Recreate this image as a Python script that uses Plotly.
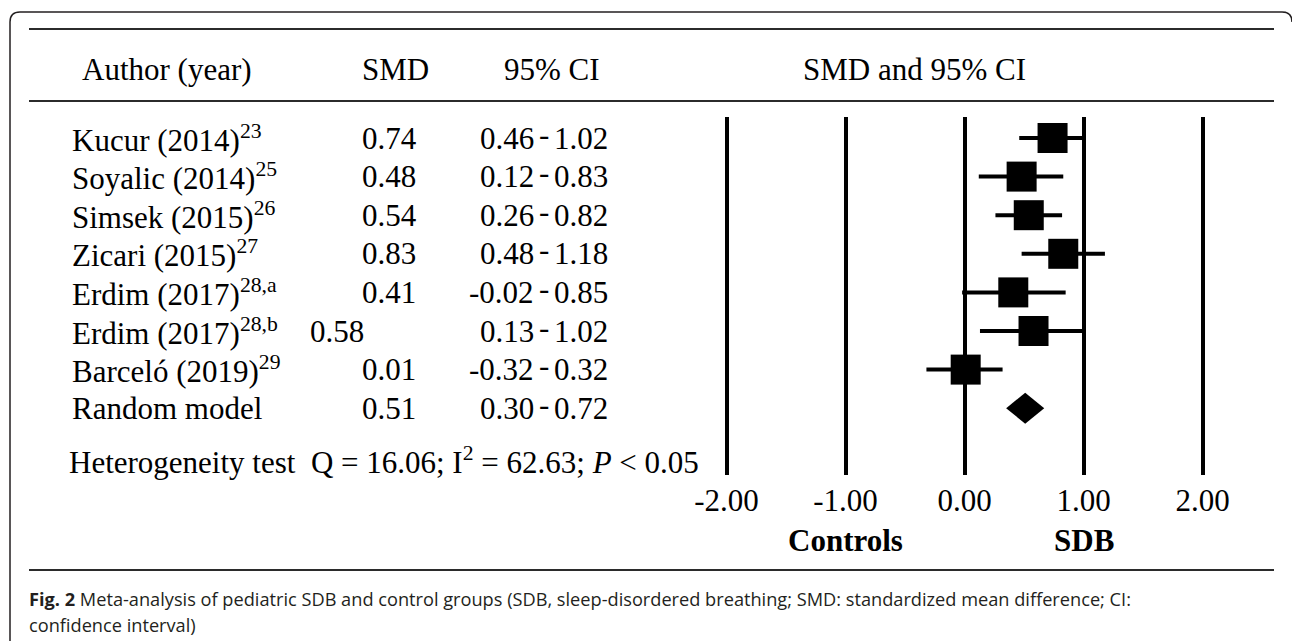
import plotly.graph_objects as go

# ---------------- data ----------------
authors = ["Kucur (2014)<sup>23</sup>", "Soyalic (2014)<sup>25</sup>", "Simsek (2015)<sup>26</sup>",
           "Zicari (2015)<sup>27</sup>", "Erdim (2017)<sup>28,a</sup>", "Erdim (2017)<sup>28,b</sup>",
           "Barceló (2019)<sup>29</sup>"]
smd = [0.74, 0.48, 0.54, 0.83, 0.41, 0.58, 0.01]
ci_low = [0.46, 0.12, 0.26, 0.48, -0.02, 0.13, -0.32]
ci_high = [1.02, 0.83, 0.82, 1.18, 0.85, 1.02, 0.32]
pooled_label = "Random model"
pooled_smd = 0.51
pooled_low = 0.30
pooled_high = 0.72
heterogeneity = "Heterogeneity test\u00a0\u00a0Q = 16.06; I<sup>2</sup> = 62.63; <i>P</i> &lt; 0.05"
x_ticks = [-2, -1, 0, 1, 2]
tick_text = ["%.2f" % v for v in x_ticks]
side_labels = ["Controls", "SDB"]
side_pos = [-1, 1]
caption1 = ("<b>Fig. 2</b> Meta-analysis of pediatric SDB and control groups (SDB, sleep-disordered "
            "breathing; SMD: standardized mean difference; CI:")
caption2 = "confidence interval)"

# ---------------- layout geometry ----------------
W, H = 1292, 641
L, R, T, B = 690, 1275, 117, 475
ZERO_PX, UNIT_PX = 964.5, 119.0
ROW0_PX, ROW_STEP = 138.0, 38.6

def px(x):
    return (x - L) / (R - L)

def py(y):
    return (B - y) / (B - T)

x_range = [(L - ZERO_PX) / UNIT_PX, (R - ZERO_PX) / UNIT_PX]
y_range = [(B - ROW0_PX) / ROW_STEP, (T - ROW0_PX) / ROW_STEP]

SERIF = "Liberation Serif, Times New Roman, serif"
FS = 31
INK = "#000000"

n = len(authors)
rows = list(range(n))
pooled_row = n

fig = go.Figure()

# study squares with CI lines
fig.add_trace(go.Scatter(
    x=smd, y=rows, mode="markers",
    marker=dict(symbol="square", size=30, color=INK, line=dict(width=0)),
    error_x=dict(type="data", symmetric=False,
                 array=[h - m for h, m in zip(ci_high, smd)],
                 arrayminus=[m - l for m, l in zip(smd, ci_low)],
                 thickness=4, width=0, color=INK),
    showlegend=False, hoverinfo="skip", cliponaxis=False,
))

# pooled diamond
dx, dy = 0.16, 0.40
fig.add_trace(go.Scatter(
    x=[pooled_smd - dx, pooled_smd, pooled_smd + dx, pooled_smd, pooled_smd - dx],
    y=[pooled_row, pooled_row - dy, pooled_row, pooled_row + dy, pooled_row],
    mode="lines", fill="toself", fillcolor=INK, line=dict(width=0, color=INK),
    showlegend=False, hoverinfo="skip",
))

ann = []

def text(x, y, s, xanchor="center", size=FS, family=SERIF, yref="paper", xref="paper",
         color=INK, yshift=0):
    ann.append(dict(x=x, y=y, xref=xref, yref=yref, text=s, showarrow=False,
                    xanchor=xanchor, yanchor="middle", yshift=yshift,
                    font=dict(family=family, size=size, color=color)))

# header
HDR_Y = py(70)
text(px(167), HDR_Y, "Author (year)")
text(px(395), HDR_Y, "SMD")
text(px(552), HDR_Y, "95% CI")
text(px(914), HDR_Y, "SMD and 95% CI")

# table rows
smd_x = [389] * n
smd_x[5] = 337
labels = authors + [pooled_label]
vals = smd + [pooled_smd]
lows = ci_low + [pooled_low]
highs = ci_high + [pooled_high]
smd_x.append(389)
for i in range(n + 1):
    text(px(70), i, labels[i], xanchor="left", yref="y")
    text(px(smd_x[i]), i, "%.2f" % vals[i], yref="y")
    text(px(536), i, "%.2f" % lows[i], xanchor="right", yref="y")
    text(px(544), i, "-", yref="y", yshift=4)
    text(px(552), i, "%.2f" % highs[i], xanchor="left", yref="y")

text(px(67), py(460), heterogeneity, xanchor="left")

# side labels
for lab, pos in zip(side_labels, side_pos):
    text(pos, py(540), "<b>%s</b>" % lab, xref="x")

# caption
CAP_FONT = "Open Sans, Noto Sans, sans-serif"
text(px(27), py(599), caption1, xanchor="left", size=18.2, family=CAP_FONT, color="#231f20")
text(px(27), py(625), caption2, xanchor="left", size=18.2, family=CAP_FONT, color="#231f20")

# rules and frame
shapes = []
for yy in (29, 101, 570):
    shapes.append(dict(type="line", xref="paper", yref="paper",
                       x0=px(29), x1=px(1274), y0=py(yy), y1=py(yy),
                       line=dict(color="#2b2b2b", width=2)))
frame = ("M {a},{b} L {a},{c} Q {a},{d} {e},{d} L {f},{d} Q {g},{d} {g},{h}"
         .format(a=px(10), b=py(660), c=py(22), d=py(12), e=px(20),
                 f=px(1282), g=px(1292), h=py(22)))
shapes.append(dict(type="path", xref="paper", yref="paper", path=frame,
                   line=dict(color="#231f20", width=1.5)))

fig.update_layout(
    width=W, height=H,
    margin=dict(l=L, r=W - R, t=T, b=H - B, pad=0),
    paper_bgcolor="white", plot_bgcolor="white",
    annotations=ann, shapes=shapes, showlegend=False,
    xaxis=dict(range=x_range, tickvals=x_ticks, ticktext=tick_text,
               showgrid=True, gridcolor=INK, gridwidth=4, zeroline=False,
               showline=False, ticks="", ticklabelstandoff=4,
               tickfont=dict(family=SERIF, size=FS, color=INK), fixedrange=True),
    yaxis=dict(range=y_range, showgrid=False, zeroline=False, showline=False,
               showticklabels=False, ticks="", fixedrange=True),
)

fig.write_html("out.html", config={"displayModeBar": False},
               post_script="document.body.style.margin='0';document.body.style.overflow='hidden';")
